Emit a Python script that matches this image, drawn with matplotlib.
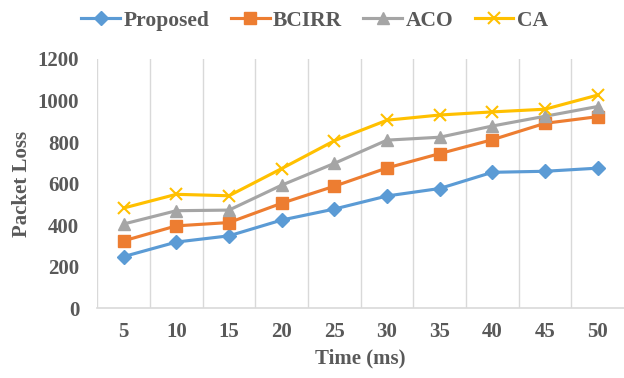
import matplotlib.pyplot as plt

# data
times = ['5', '10', '15', '20', '25', '30', '35', '40', '45', '50']
proposed = [248, 318, 348, 424, 477, 540, 576, 654, 659, 674]
bcirr = [324, 396, 412, 505, 587, 675, 744, 811, 890, 922]
aco = [405, 469, 472, 592, 697, 809, 823, 877, 924, 971]
ca = [482, 548, 541, 672, 806, 905, 930, 945, 958, 1026]

plt.rcParams['font.family'] = ['Liberation Serif', 'DejaVu Serif']
plt.rcParams['font.weight'] = 'bold'

fig = plt.figure(figsize=(6.24, 3.78), dpi=100)
ax = fig.add_axes([0.156, 0.185, 0.844, 0.659])

x = range(len(times))
ax.plot(x, proposed, color='#5B9BD5', lw=2.25, marker='D', ms=7, label='Proposed')
ax.plot(x, bcirr, color='#ED7D31', lw=2.25, marker='s', ms=8.5, label='BCIRR')
ax.plot(x, aco, color='#A5A5A5', lw=2.25, marker='^', ms=8.5, label='ACO')
ax.plot(x, ca, color='#FFC000', lw=2.25, marker='x', ms=8.5, mew=1.5, label='CA')

ax.set_xlim(-0.5, len(times) - 0.5)
ax.set_ylim(0, 1200)
ax.set_yticks(range(0, 1201, 200))
ax.set_xticks(list(x))
ax.set_xticklabels(times)
# vertical gridlines between categories
for b in [i + 0.5 for i in range(-1, len(times) - 1)]:
    ax.axvline(b, color='#D9D9D9', lw=1, zorder=0)

for s in ['top', 'right', 'left']:
    ax.spines[s].set_visible(False)
ax.spines['bottom'].set_color('#D9D9D9')
ax.spines['bottom'].set_linewidth(1.2)
ax.tick_params(length=0, labelsize=15, labelcolor='#595959')
ax.tick_params(axis='y', pad=13)
ax.tick_params(axis='x', pad=10)

ax.set_xlabel('Time (ms)', fontsize=15, color='#595959', fontweight='bold', labelpad=5)
ax.set_ylabel('Packet Loss', fontsize=15, color='#595959', fontweight='bold', labelpad=4)

fig.legend(loc='center', bbox_to_anchor=(0.504, 0.945), ncol=4, frameon=False,
           prop={'size': 15.5, 'weight': 'bold'}, labelcolor='#595959',
           handlelength=1.8, handletextpad=0.15, columnspacing=1.0)

fig.savefig('out.png', dpi=100)
